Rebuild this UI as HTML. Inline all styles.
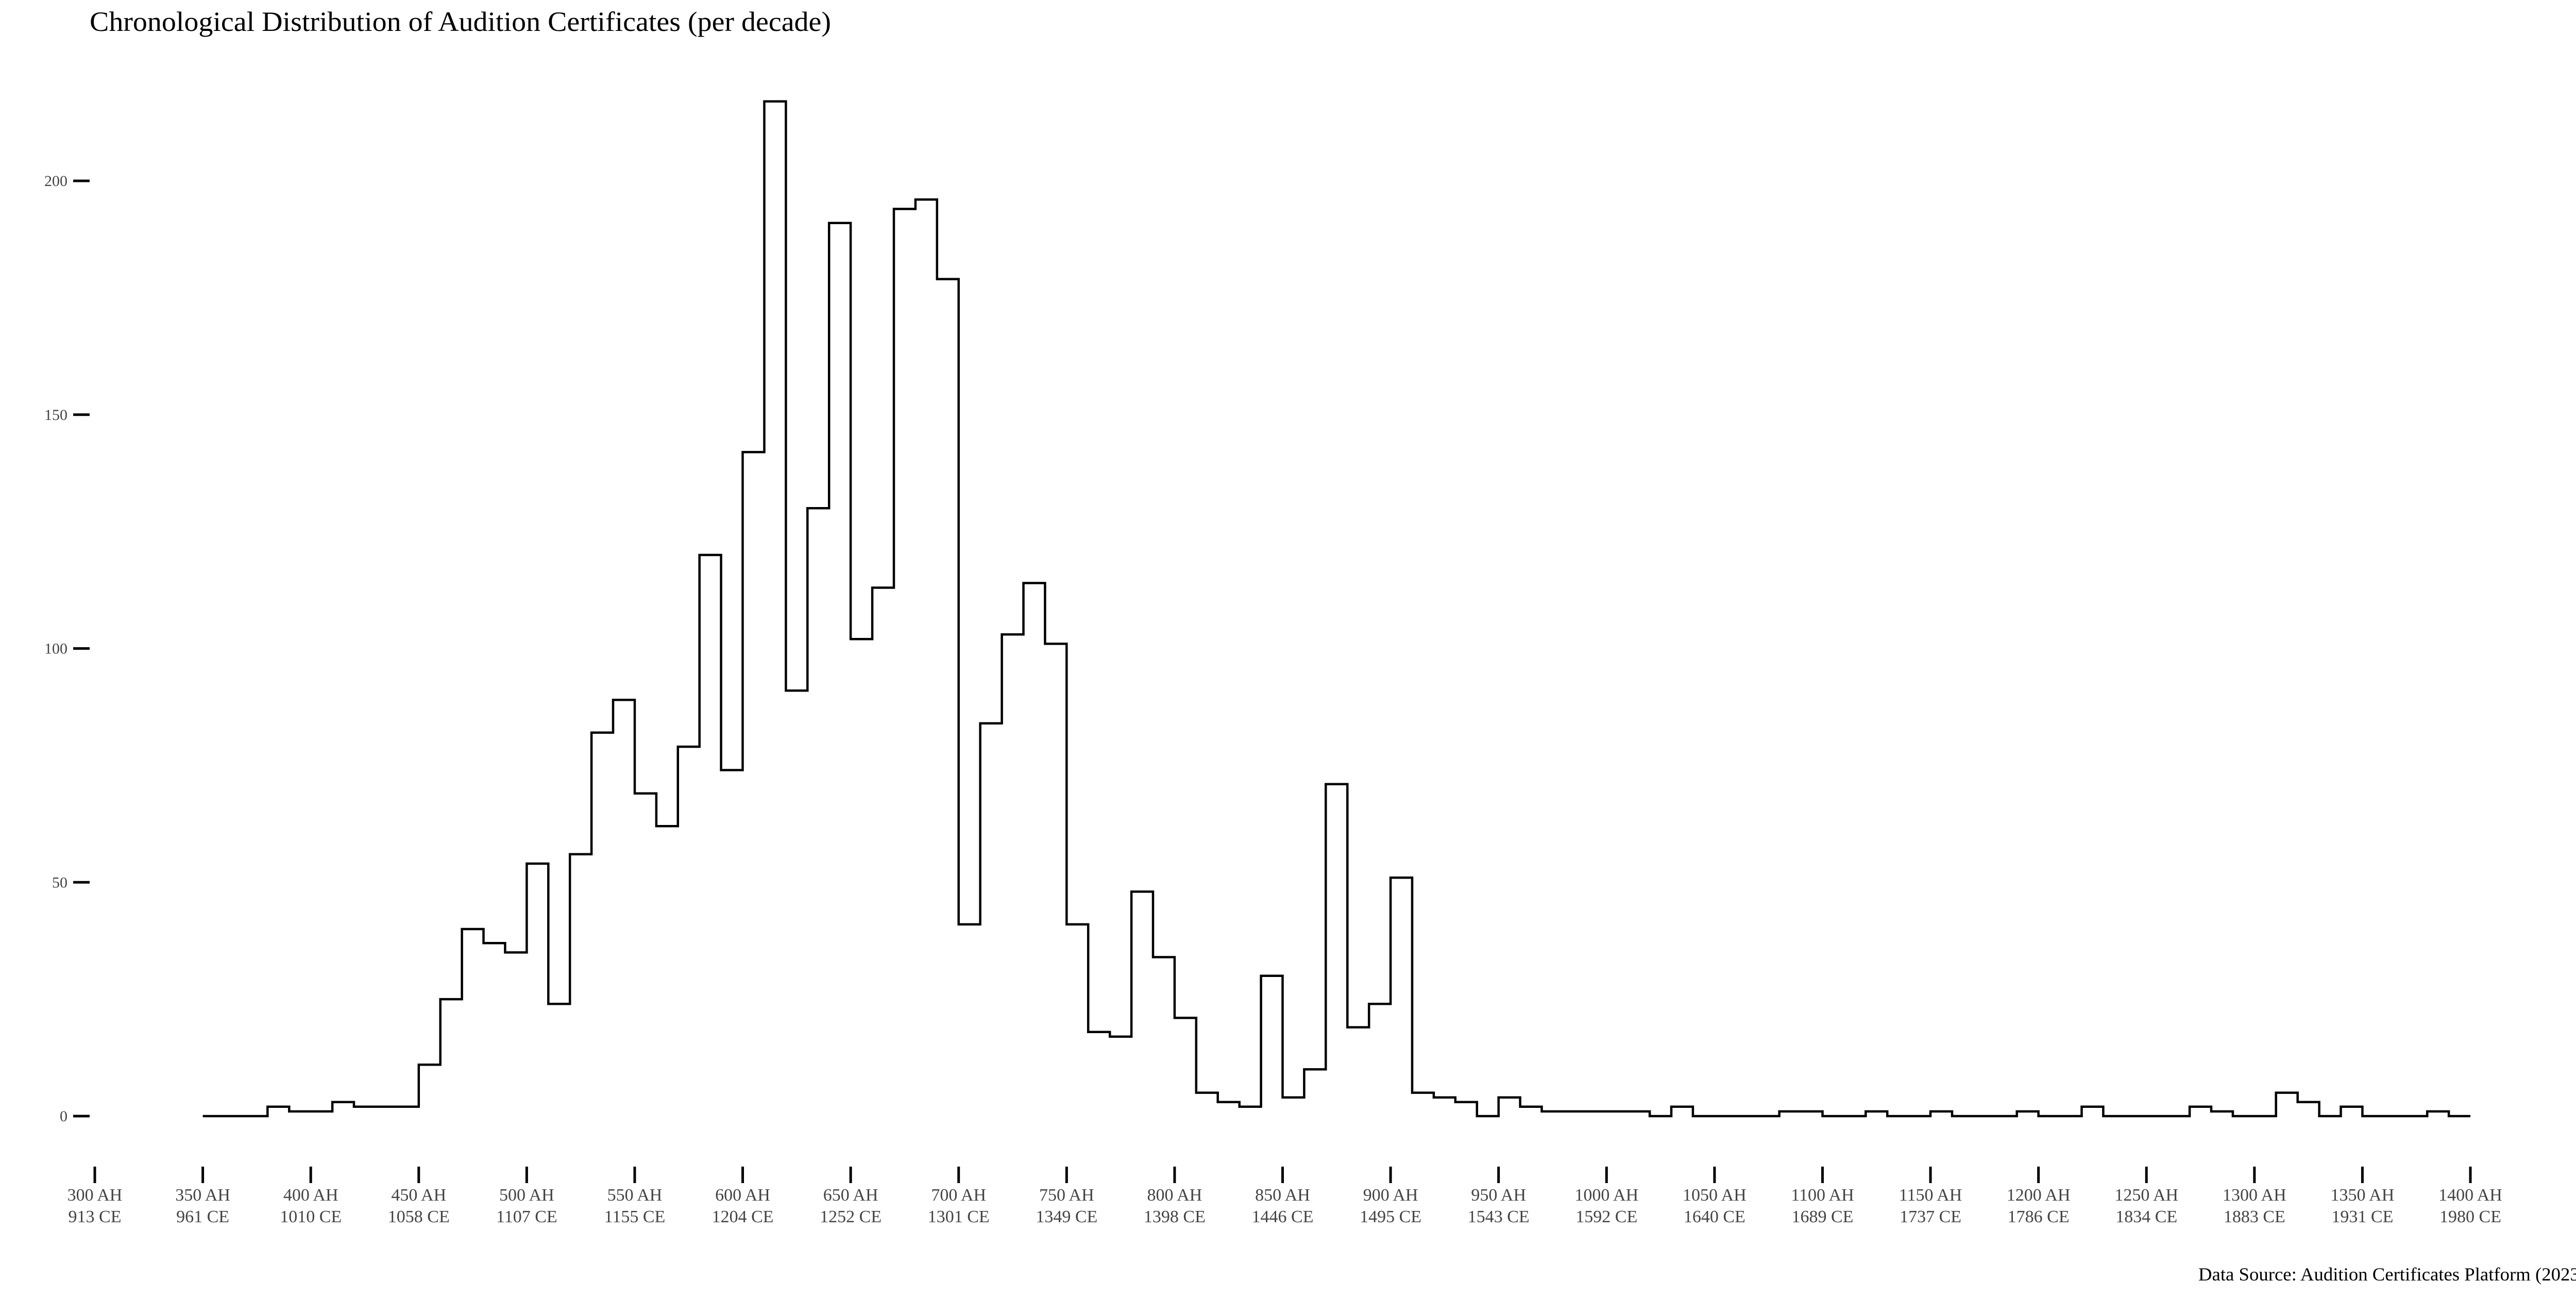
<!DOCTYPE html>
<html><head><meta charset="utf-8">
<style>
html,body{margin:0;padding:0;background:#fff;}
svg{display:block;}
text{font-family:"Liberation Serif",serif;}
</style></head>
<body>
<svg id="chart" width="5039" height="2519" viewBox="0 0 5039 2519" xmlns="http://www.w3.org/2000/svg">
<rect width="5039" height="2519" fill="#fff"/>
<text x="174" y="60" font-size="54" fill="#000" textLength="1439" lengthAdjust="spacingAndGlyphs">Chronological Distribution of Audition Certificates (per decade)</text>
<text x="5019" y="2485" font-size="36" fill="#000" text-anchor="end" textLength="752" lengthAdjust="spacingAndGlyphs">Data Source: Audition Certificates Platform (2023)</text>
<g id="yaxis"></g>
<g id="xaxis"></g>
<g id="series"></g>
</svg>
<script>
const binStartAH = 350;
const binWidth = 10;
const counts = [0,0,0,2,1,1,3,2,2,2,
 11,25,40,37,35,54,24,56,82,89,
 69,62,79,120,74,142,217,91,130,191,
 102,113,194,196,179,41,84,103,114,101,
 41,18,17,48,34,21,5,3,2,30,
 4,10,71,19,24,51,5,4,3,0,
 4,2,1,1,1,1,1,0,2,0,
 0,0,0,1,1,0,0,1,0,0,
 1,0,0,0,1,0,0,2,0,0,
 0,0,2,1,0,0,5,3,0,2,
 0,0,0,1,0];
const yTicks = [0,50,100,150,200];
const xTicksAH = [300,350,400,450,500,550,600,650,700,750,800,850,900,950,1000,1050,1100,1150,1200,1250,1300,1350,1400];
const xTicksCE = [913,961,1010,1058,1107,1155,1204,1252,1301,1349,1398,1446,1495,1543,1592,1640,1689,1737,1786,1834,1883,1931,1980];

const NS = "http://www.w3.org/2000/svg";
function xScale(ah){ return 184 + (ah - 300) * (4795 - 184) / 1100; }
function yScale(v){ return 2166 - v * 9.075; }
function mk(tag, attrs, parent){ const e = document.createElementNS(NS, tag); for (const k in attrs) e.setAttribute(k, attrs[k]); parent.appendChild(e); return e; }

const yaxis = document.getElementById('yaxis');
yTicks.forEach(v => {
  const t = mk('line', {x1:142, x2:174, y1:yScale(v), y2:yScale(v), stroke:'#000', 'stroke-width':5}, yaxis);
  
  
  const l = mk('text', {x:131, y:yScale(v)+10, 'font-size':30, fill:'#444', 'text-anchor':'end'}, yaxis);
  l.textContent = v;
  
  
});

const xaxis = document.getElementById('xaxis');
xTicksAH.forEach((ah, i) => {
  const x = xScale(ah);
  const t = mk('line', {x1:x, x2:x, y1:2264, y2:2296, stroke:'#000', 'stroke-width':5}, xaxis);
  
  
  const l1 = mk('text', {x:x, y:2330, 'font-size':34, fill:'#444', 'text-anchor':'middle'}, xaxis);
  l1.textContent = ah + ' AH';
  
  
  const l2 = mk('text', {x:x, y:2372, 'font-size':34, fill:'#444', 'text-anchor':'middle'}, xaxis);
  l2.textContent = xTicksCE[i] + ' CE';
  
  
});

const series = document.getElementById('series');
let d = '';
counts.forEach((c, i) => {
  const x0 = xScale(binStartAH + i * binWidth), x1 = xScale(binStartAH + (i + 1) * binWidth), y = yScale(c);
  d += (i === 0 ? 'M' : 'L') + x0.toFixed(1) + ',' + y.toFixed(1) + ' L' + x1.toFixed(1) + ',' + y.toFixed(1) + ' ';
});
const p = mk('path', {d:d, fill:'none', stroke:'#000', 'stroke-width':4.5, 'stroke-linejoin':'miter'}, series);


</script>
</body></html>
